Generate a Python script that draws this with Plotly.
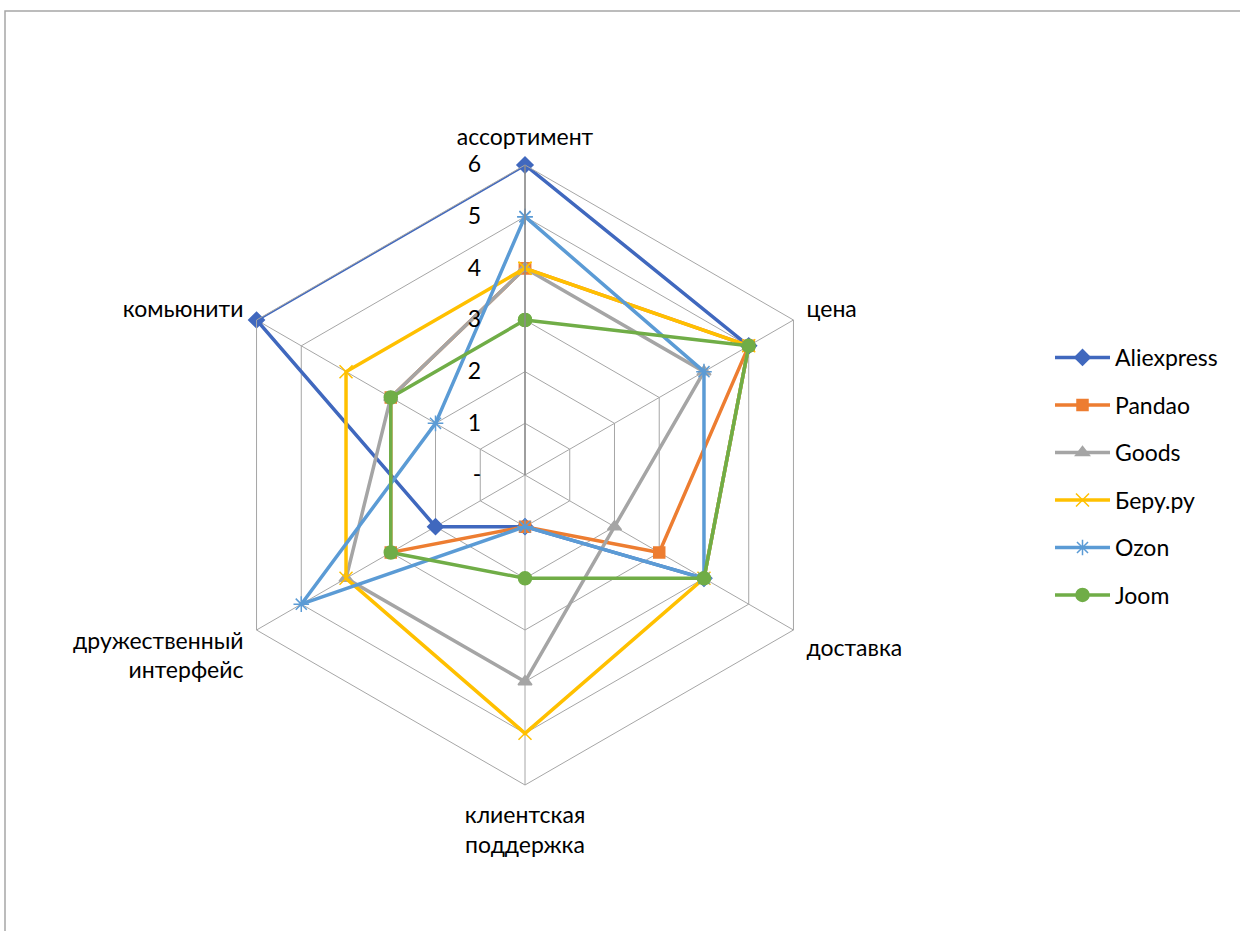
import plotly.graph_objects as go

categories = ["ассортимент", "цена", "доставка", "клиентская<br>поддержка",
              "дружественный<br>интерфейс", "комьюнити"]
series_names = ["Aliexpress", "Pandao", "Goods", "Беру.ру", "Ozon", "Joom"]
aliexpress = [6, 5, 4, 1, 2, 6]
pandao = [4, 5, 3, 1, 3, 3]
goods = [4, 4, 2, 4, 4, 3]
beru = [4, 5, 4, 5, 4, 4]
ozon = [5, 4, 4, 1, 5, 2]
joom = [3, 5, 4, 2, 3, 3]
tick_vals = [0, 1, 2, 3, 4, 5, 6]
tick_text = ["-", "1", "2", "3", "4", "5", "6"]

values = [aliexpress, pandao, goods, beru, ozon, joom]
colors = ["#4068BE", "#ED7D31", "#A5A5A5", "#FFC000", "#5B9BD5", "#70AD47"]
symbols = ["diamond", "square", "triangle-up", "x-thin-open", "asterisk-open", "circle"]
msizes = [12, 11, 12, 13, 13, 13]

W, H = 1240, 931
cx, cy, R = 525, 475, 310
FONT = "Lato, Carlito, Calibri, sans-serif"
FS = 23

fig = go.Figure()
for name, vals, col, sym, ms in zip(series_names, values, colors, symbols, msizes):
    fig.add_trace(go.Scatterpolar(
        r=vals + vals[:1],
        theta=categories + categories[:1],
        mode="lines+markers",
        name=name,
        legendgroup=name,
        line=dict(color=col, width=3.5),
        marker=dict(symbol=sym, size=ms, color=col,
                    line=dict(color=col, width=1.5)),
    ))

fig.update_layout(
    width=W, height=H,
    margin=dict(l=0, r=0, t=0, b=0),
    paper_bgcolor="white",
    plot_bgcolor="white",
    font=dict(family=FONT, size=FS, color="#000000"),
    polar=dict(
        domain=dict(x=[(cx - R) / W, (cx + R) / W], y=[1 - (cy + R) / H, 1 - (cy - R) / H]),
        gridshape="linear",
        bgcolor="white",
        angularaxis=dict(
            rotation=90, direction="clockwise",
            showline=True, linecolor="#A6A6A6", linewidth=1,
            gridcolor="#A6A6A6", gridwidth=1,
            ticks="outside", ticklen=10, tickcolor="rgba(0,0,0,0)",
            tickfont=dict(family=FONT, size=FS, color="#000000"),
        ),
        radialaxis=dict(
            range=[0, 6], angle=90, tickangle=90,
            tickvals=tick_vals, ticktext=tick_text,
            showline=True, linecolor="#8C8C8C", linewidth=1.5,
            gridcolor="#A6A6A6", gridwidth=1,
            ticks="outside", ticklen=35, tickcolor="rgba(0,0,0,0)",
            side="counterclockwise",
            tickfont=dict(family=FONT, size=FS, color="#000000"),
        ),
    ),
    legend=dict(
        x=1050 / W, y=1 - 336 / H, xanchor="left", yanchor="top",
        font=dict(family=FONT, size=FS, color="#000000"),
        tracegroupgap=14.6, traceorder="grouped", itemwidth=55,
        bgcolor="rgba(0,0,0,0)",
    ),
    shapes=[dict(type="rect", xref="paper", yref="paper",
                 x0=5 / W, x1=1.05, y0=-0.05, y1=1 - 11 / H,
                 line=dict(color="#A6A6A6", width=1.5))],
)

fig.write_html("out.html")
